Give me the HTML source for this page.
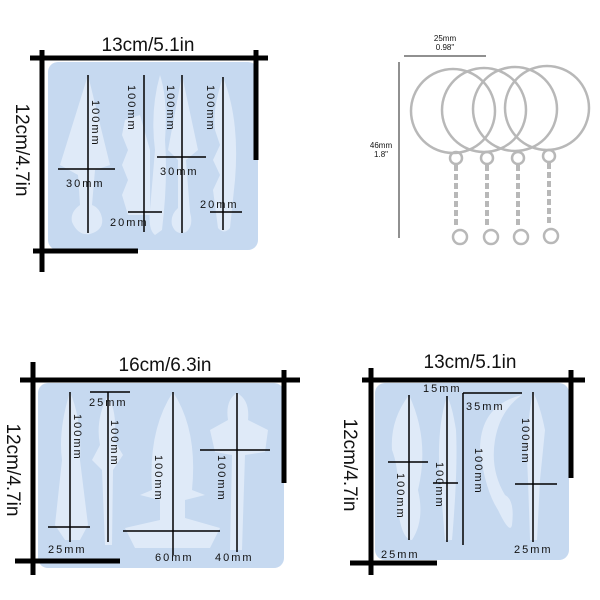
<!DOCTYPE html>
<html><head><meta charset="utf-8"><style>
html,body{margin:0;padding:0;background:#fff;width:600px;height:600px;overflow:hidden}
svg{display:block}
.t{font-family:"Liberation Sans",sans-serif;fill:#111}
.m{font-family:"Liberation Sans",sans-serif;fill:#111;font-size:11px;letter-spacing:2px}
.L{stroke:#000;stroke-width:5}
.l{stroke:#000;stroke-width:1.5}
.k{fill:#dfeaf8}
.r{fill:none;stroke:#b8b8b8;stroke-width:2.5}
</style></head><body>
<svg width="600" height="600" viewBox="0 0 600 600" xmlns="http://www.w3.org/2000/svg">
<!-- Panel 1 -->
<rect x="48" y="62" width="210" height="188" rx="10" fill="#c6d9f0"/>
<path class="k" d="M88 75 L60 165 L78 175 L80 205 Q70 212 72 222 Q78 236 90 234 Q104 230 102 218 Q100 208 92 205 L95 170 L110 165 Z"/>
<path class="k" d="M160 75 Q150 110 155 150 L150 210 Q148 230 155 235 L162 230 Q168 180 165 140 Q168 100 160 75Z"/>
<path class="k" d="M125 120 L140 115 L150 150 L150 215 L128 215 L122 195 L128 180 L122 165 L128 150 L122 135Z"/>
<path class="k" d="M182 75 L168 150 L178 160 L178 208 Q170 215 172 225 Q176 236 186 232 Q194 226 190 212 L186 160 L198 150Z"/>
<path class="k" d="M223 77 Q212 110 215 130 L220 145 L213 160 L220 175 L213 190 L218 228 Q224 235 230 228 L235 180 Q240 120 223 77Z"/>
<line class="L" x1="30" y1="58" x2="268" y2="58"/><line class="L" x1="42" y1="50" x2="42" y2="272"/>
<line class="L" x1="256" y1="50" x2="256" y2="160"/><line class="L" x1="33" y1="251" x2="138" y2="251"/>
<line class="l" x1="88" y1="75" x2="88" y2="233"/><line class="l" x1="144" y1="75" x2="144" y2="232"/>
<line class="l" x1="182" y1="75" x2="182" y2="233"/><line class="l" x1="223" y1="77" x2="223" y2="230"/>
<line class="l" x1="58" y1="169" x2="115" y2="169"/><line class="l" x1="157" y1="157" x2="206" y2="157"/>
<line class="l" x1="128" y1="212" x2="162" y2="212"/><line class="l" x1="210" y1="212" x2="242" y2="212"/>
<text class="t" x="148" y="51" font-size="19" text-anchor="middle">13cm/5.1in</text>
<text class="t" font-size="19" text-anchor="middle" transform="translate(16,150) rotate(90)">12cm/4.7in</text>
<text class="m" transform="translate(92,100) rotate(90)">100mm</text>
<text class="m" transform="translate(128,85) rotate(90)">100mm</text>
<text class="m" transform="translate(167,85) rotate(90)">100mm</text>
<text class="m" transform="translate(207,85) rotate(90)">100mm</text>
<text class="m" x="66" y="187">30mm</text><text class="m" x="110" y="226">20mm</text>
<text class="m" x="160" y="175">30mm</text><text class="m" x="200" y="208">20mm</text>
<!-- Keyrings -->
<line stroke="#222" stroke-width="1" x1="404" y1="56" x2="486" y2="56"/>
<text class="t" x="445" y="41" font-size="8" text-anchor="middle">25mm</text>
<text class="t" x="445" y="50" font-size="8" text-anchor="middle">0.98"</text>
<line stroke="#222" stroke-width="1" x1="399" y1="62" x2="399" y2="238"/>
<text class="t" x="381" y="148" font-size="8" text-anchor="middle">46mm</text>
<text class="t" x="381" y="157" font-size="8" text-anchor="middle">1.8"</text>
<g class="r">
<circle cx="453" cy="111" r="42"/><circle cx="484" cy="110" r="42"/><circle cx="515" cy="109" r="42"/><circle cx="547" cy="108" r="42"/>
<circle cx="456" cy="158" r="6"/><circle cx="487" cy="158" r="6"/><circle cx="518" cy="158" r="6"/><circle cx="549" cy="156" r="6"/>
<path d="M456 165 v60 M487 165 v60 M518 165 v60 M549 163 v62" stroke-dasharray="6 3" stroke-width="4"/>
<circle cx="460" cy="237" r="7"/><circle cx="491" cy="237" r="7"/><circle cx="521" cy="237" r="7"/><circle cx="551" cy="236" r="7"/>
</g>
<!-- Panel 2 -->
<rect x="38" y="383" width="246" height="185" rx="10" fill="#c6d9f0"/>
<path class="k" d="M70 392 Q58 430 62 460 L55 525 L65 540 L80 540 L88 525 L80 460 Q82 420 70 392Z"/>
<path class="k" d="M108 395 Q95 420 100 445 L92 460 L102 470 L105 545 L112 545 L113 470 L123 455 L114 440 Q118 415 108 395Z"/>
<path class="k" d="M173 392 Q148 430 152 490 L140 495 L160 500 L160 520 L125 528 L135 548 L210 548 L220 528 L185 518 L185 500 L205 495 L192 490 Q198 430 173 392Z"/>
<path class="k" d="M237 393 Q225 400 228 420 L210 430 L215 452 L232 455 L230 550 L242 550 L245 455 L265 452 L268 430 L248 420 Q250 400 237 393Z"/>
<line class="L" x1="20" y1="380" x2="300" y2="380"/><line class="L" x1="33" y1="362" x2="33" y2="575"/>
<line class="L" x1="284" y1="370" x2="284" y2="483"/><line class="L" x1="15" y1="561" x2="120" y2="561"/>
<line class="l" x1="70" y1="392" x2="70" y2="542"/><line class="l" x1="108" y1="392" x2="108" y2="542"/>
<line class="l" x1="173" y1="392" x2="173" y2="555"/><line class="l" x1="237" y1="393" x2="237" y2="552"/>
<line class="l" x1="90" y1="392" x2="130" y2="392"/><line class="l" x1="48" y1="527" x2="90" y2="527"/>
<line class="l" x1="123" y1="531" x2="220" y2="531"/><line class="l" x1="200" y1="450" x2="270" y2="450"/>
<text class="t" x="165" y="371" font-size="19" text-anchor="middle">16cm/6.3in</text>
<text class="t" font-size="19" text-anchor="middle" transform="translate(7,470) rotate(90)">12cm/4.7in</text>
<text class="m" transform="translate(74,414) rotate(90)">100mm</text>
<text class="m" transform="translate(111,420) rotate(90)">100mm</text>
<text class="m" transform="translate(155,455) rotate(90)">100mm</text>
<text class="m" transform="translate(218,455) rotate(90)">100mm</text>
<text class="m" x="89" y="406">25mm</text><text class="m" x="48" y="553">25mm</text>
<text class="m" x="155" y="561">60mm</text><text class="m" x="215" y="561">40mm</text>
<!-- Panel 3 -->
<rect x="375" y="383" width="194" height="177" rx="10" fill="#c6d9f0"/>
<path class="k" d="M409 395 Q390 420 392 450 Q400 470 398 510 Q402 540 412 540 Q425 520 418 490 Q430 440 409 395Z"/>
<path class="k" d="M447 396 Q436 430 440 480 L445 540 L452 540 Q458 470 456 430 Q452 405 447 396Z"/>
<path class="k" d="M522 395 Q480 405 480 450 Q485 490 498 510 Q510 535 512 525 Q515 500 505 495 Q490 470 495 440 Q500 410 522 395Z"/>
<path class="k" d="M533 392 Q525 430 528 480 L530 540 L537 540 L540 480 L545 430 Q540 405 533 392Z"/>
<line class="L" x1="362" y1="380" x2="585" y2="380"/><line class="L" x1="371" y1="368" x2="371" y2="575"/>
<line class="L" x1="571" y1="370" x2="571" y2="478"/><line class="L" x1="350" y1="563" x2="437" y2="563"/>
<line class="l" x1="409" y1="395" x2="409" y2="540"/><line class="l" x1="447" y1="396" x2="447" y2="542"/>
<line class="l" x1="463" y1="393" x2="463" y2="545"/><line class="l" x1="533" y1="392" x2="533" y2="542"/>
<line class="l" x1="463" y1="393" x2="522" y2="393"/><line class="l" x1="388" y1="462" x2="428" y2="462"/>
<line class="l" x1="433" y1="483" x2="458" y2="483"/><line class="l" x1="515" y1="484" x2="557" y2="484"/>
<text class="t" x="470" y="368" font-size="19" text-anchor="middle">13cm/5.1in</text>
<text class="t" font-size="19" text-anchor="middle" transform="translate(344,465) rotate(90)">12cm/4.7in</text>
<text class="m" transform="translate(397,473) rotate(90)">100mm</text>
<text class="m" transform="translate(436,462) rotate(90)">100mm</text>
<text class="m" transform="translate(475,448) rotate(90)">100mm</text>
<text class="m" transform="translate(522,418) rotate(90)">100mm</text>
<text class="m" x="423" y="392" font-size="9">15mm</text><text class="m" x="466" y="410">35mm</text>
<text class="m" x="381" y="558">25mm</text><text class="m" x="514" y="553">25mm</text>
</svg>
</body></html>
